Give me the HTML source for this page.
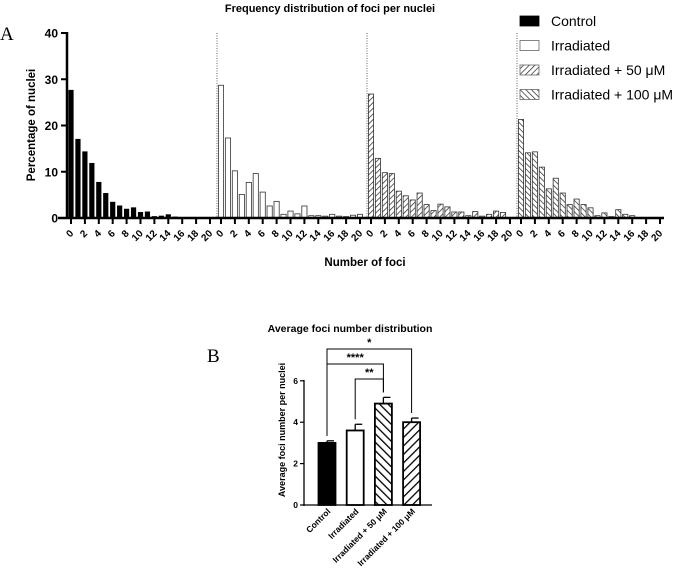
<!DOCTYPE html>
<html><head><meta charset="utf-8">
<style>
body{margin:0;background:#fff;width:685px;height:578px;overflow:hidden;font-family:"Liberation Sans",sans-serif;}
svg{display:block}
</style></head>
<body>
<svg width="685" height="578" viewBox="0 0 685 578" xmlns="http://www.w3.org/2000/svg">
<defs>
<pattern id="hatchF" patternUnits="userSpaceOnUse" width="4" height="4" patternTransform="rotate(45)"><rect width="4" height="4" fill="#fff"/><line x1="0" y1="0" x2="0" y2="4" stroke="#222" stroke-width="1.4"/></pattern>
<pattern id="hatchB" patternUnits="userSpaceOnUse" width="4" height="4" patternTransform="rotate(-45)"><rect width="4" height="4" fill="#fff"/><line x1="0" y1="0" x2="0" y2="4" stroke="#222" stroke-width="1.4"/></pattern>
<pattern id="hatchF2" patternUnits="userSpaceOnUse" width="6" height="6" patternTransform="rotate(45)"><rect width="6" height="6" fill="#fff"/><line x1="0" y1="0" x2="0" y2="6" stroke="#000" stroke-width="2.6"/></pattern>
<pattern id="hatchB2" patternUnits="userSpaceOnUse" width="6" height="6" patternTransform="rotate(-45)"><rect width="6" height="6" fill="#fff"/><line x1="0" y1="0" x2="0" y2="6" stroke="#000" stroke-width="2.6"/></pattern>
</defs>
<g id="panelA"></g>
<g id="panelB"></g>
</svg>
<script>
const focusTicks = [0,2,4,6,8,10,12,14,16,18,20];
const yTicksA = [0,10,20,30,40];
const controlVals = [27.7,17.1,14.4,11.9,7.8,5.4,3.5,2.7,2.0,2.3,1.3,1.4,0.4,0.5,0.8,0.3,0.1,0,0,0,0];
const irradVals = [28.7,17.3,10.2,5.1,7.7,9.6,5.6,2.6,3.6,0.8,1.5,0.9,2.6,0.5,0.5,0.4,0.8,0.4,0.3,0.6,0.8];
const irr50Vals = [26.8,12.9,9.8,9.6,5.8,4.8,3.9,5.4,2.9,1.6,3.0,2.4,1.3,1.3,0.5,1.4,0.4,0.8,1.5,1.2,0];
const irr100Vals = [21.3,14.1,14.3,11.0,6.3,8.6,5.4,2.9,4.1,2.9,2.2,0.5,1.1,0.3,1.8,0.8,0.5,0,0,0,0];
const groupNames = ["Control","Irradiated","Irradiated + 50 μM","Irradiated + 100 μM"];
const avgVals = [3.0,3.6,4.9,4.0];
const avgErr = [0.1,0.3,0.3,0.2];
const yTicksB = [0,2,4,6];
const sigLabels = ["*","****","**"];

const NS="http://www.w3.org/2000/svg";
function mk(parent,tag,attrs,text){const e=document.createElementNS(NS,tag);for(const k in attrs)e.setAttribute(k,attrs[k]);if(text!==undefined)e.textContent=text;parent.appendChild(e);return e;}

// Panel A
const A=document.getElementById('panelA');
const yA=v=>218-v*4.625;
const xA=(g,k)=>71+g*150+k*6.95;
const fills=["#000","#fff","url(#hatchF)","url(#hatchB)"];
const series=[controlVals,irradVals,irr50Vals,irr100Vals];
let t;
t=mk(A,'text',{x:330,y:12,'text-anchor':'middle','font-size':'11','font-weight':'bold'},'Frequency distribution of foci per nuclei');

t=mk(A,'text',{x:0,y:40,'font-size':'19','font-family':'Liberation Serif,serif'},'A');

series.forEach((vals,g)=>{
  vals.forEach((v,k)=>{
    if(v<=0)return;
    const r=mk(A,'rect',{x:xA(g,k)-2.6,y:yA(v),width:5.2,height:218-yA(v),fill:fills[g],stroke:g==0?'none':'#333','stroke-width':0.8});
    
    
  });
  if(g>0){const l=mk(A,'line',{x1:xA(g,0)-4,x2:xA(g,0)-4,y1:33,y2:218,stroke:'#666','stroke-dasharray':'1,1.5','stroke-width':1});
    }
  focusTicks.forEach(ft=>{
    mk(A,'line',{x1:xA(g,ft),x2:xA(g,ft),y1:218,y2:224,stroke:'#000','stroke-width':2});
    const x=xA(g,ft),y=234;
    const tl=mk(A,'text',{x:x+3,y:y,'text-anchor':'end','font-size':'10','font-weight':'bold',transform:`rotate(-45 ${x+3} ${y})`},String(ft));
    
  });
});
let ax=mk(A,'line',{x1:67,x2:67,y1:32,y2:219,stroke:'#000','stroke-width':2.5});

ax=mk(A,'line',{x1:58,x2:664,y1:218,y2:218,stroke:'#000','stroke-width':2.5});

yTicksA.forEach(v=>{
  mk(A,'line',{x1:61,x2:67,y1:yA(v),y2:yA(v),stroke:'#000','stroke-width':2});
  const tl=mk(A,'text',{x:58,y:yA(v)+4.5,'text-anchor':'end','font-size':'12','font-weight':'bold'},String(v));
  
});
t=mk(A,'text',{x:35,y:125,'text-anchor':'middle','font-size':'11.5','font-weight':'bold',transform:'rotate(-90 35 125)'},'Percentage of nuclei');

t=mk(A,'text',{x:365,y:266,'text-anchor':'middle','font-size':'11.5','font-weight':'bold'},'Number of foci');

groupNames.forEach((n,i)=>{
  const y=16+i*24.5;
  const r=mk(A,'rect',{x:520,y:y,width:19,height:10,fill:fills[i],stroke:i==0?'#000':'#666','stroke-width':0.8});
  
  const tl=mk(A,'text',{x:551,y:y+10,'font-size':'14'},n);
  
});

// Panel B
const B=document.getElementById('panelB');
const yB=v=>505-v*20.7;
const xB=i=>327+i*28.2;
const fillsB=["#000","#fff","url(#hatchB2)","url(#hatchF2)"];
t=mk(B,'text',{x:350,y:332,'text-anchor':'middle','font-size':'10.5','font-weight':'bold'},'Average foci number distribution');

t=mk(B,'text',{x:207,y:362,'font-size':'19','font-family':'Liberation Serif,serif'},'B');

avgVals.forEach((v,i)=>{
  const x=xB(i);
  const e=mk(B,'line',{x1:x,x2:x,y1:yB(v),y2:yB(v+avgErr[i]),stroke:'#000','stroke-width':1.3});
  
  mk(B,'line',{x1:x,x2:x+7,y1:yB(v+avgErr[i]),y2:yB(v+avgErr[i]),stroke:'#000','stroke-width':1.3});
  const r=mk(B,'rect',{x:x-8.5,y:yB(v),width:17,height:505-yB(v),fill:fillsB[i],stroke:'#000','stroke-width':1.8});
  
  const lx=x+4,ly=512;
  const tl=mk(B,'text',{x:lx,y:ly,'text-anchor':'end','font-size':'8.5','font-weight':'bold',transform:`rotate(-45 ${lx} ${ly})`},groupNames[i]);
  
});
ax=mk(B,'line',{x1:304,x2:304,y1:380,y2:506,stroke:'#000','stroke-width':1.3});

ax=mk(B,'line',{x1:303,x2:432,y1:505,y2:505,stroke:'#000','stroke-width':1.3});

yTicksB.forEach(v=>{
  mk(B,'line',{x1:300,x2:304,y1:yB(v),y2:yB(v),stroke:'#000','stroke-width':1.2});
  const tl=mk(B,'text',{x:298,y:yB(v)+3,'text-anchor':'end','font-size':'8.5','font-weight':'bold'},String(v));
  
});
t=mk(B,'text',{x:285,y:430,'text-anchor':'middle','font-size':'9','font-weight':'bold',transform:'rotate(-90 285 430)'},'Average foci number per nuclei');

const brackets=[[0,3,349,345],[0,2,364,360],[1,2,379,375]];
brackets.forEach((b,j)=>{
  const x1=xB(b[0]),x2=xB(b[1]),y=b[2];
  const bottom1=yB(avgVals[b[0]]+avgErr[b[0]])-5, bottom2=yB(avgVals[b[1]]+avgErr[b[1]])-5;
  const p=mk(B,'path',{d:`M${x1} ${bottom1} V${y} H${x2} V${bottom2}`,fill:'none',stroke:'#000','stroke-width':1});
  
  const tl=mk(B,'text',{x:(x1+x2)/2,y:b[3]+1,'text-anchor':'middle','font-size':'11','font-weight':'bold'},sigLabels[j]);
  
});
</script>
</body></html>
